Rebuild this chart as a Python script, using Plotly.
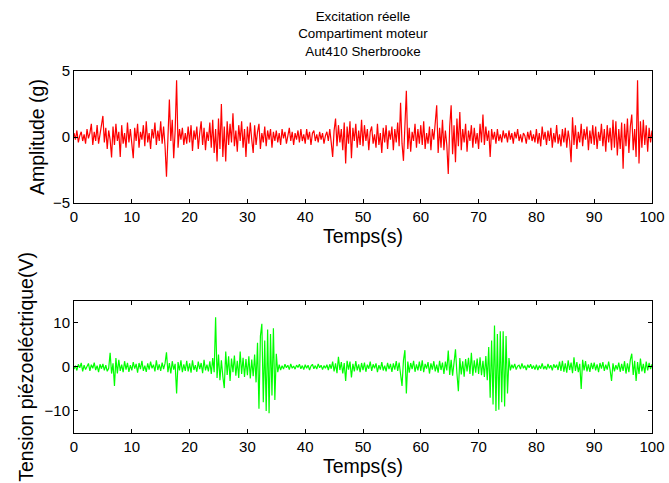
import plotly.graph_objects as go

sample_step_s = 0.25

accel_g = [
    0.3, -0.2, 0.5, -0.4, 0.1, 0.4, -0.3, 0.2, -0.5, 0.6, -0.1, 0.3, 1.0, -0.6, 0.4, -0.3, 0.9, -0.5, 0.2, 1.1,
    1.6, -0.4, 0.7, -0.9, 0.5, -0.2, -1.55, 0.8, -0.6, 1.0, -0.3, 0.4, -1.5, 0.9, -0.5, 0.3, -0.8, 1.1, -0.4, 0.6,
    -0.5, -1.6, 0.7, -0.3, 1.0, -0.8, 0.4, -0.2, 0.9, -0.7, 1.2, -0.4, 0.3, -0.9, 0.6, -0.1, 1.1, -0.6, 0.5, -0.3,
    1.2, -0.5, 0.8, -0.7, -3.0, 0.4, 2.85, -0.3, 1.3, -1.6, 0.5, 4.3, -0.8, 0.6, -0.2, 0.7, -0.6, 0.3, -0.5, 0.8,
    -0.4, 0.9, -1.05, 0.5, -0.2, 0.8, -0.9, 0.3, 1.2, -0.6, 0.7, -1.0, 0.4, -0.3, 1.1, -0.8, 1.3, -1.2, 0.6, -1.85,
    1.4, -0.9, 2.5, -1.5, 0.8, -1.85, 1.2, -0.6, 1.0, -0.4, 1.8, -0.7, 0.5, -1.1, 0.9, -0.3, 1.2, -0.8, 0.6, -1.5,
    0.8, -0.5, 1.1, -0.2, -1.2, 0.9, -0.6, 0.4, 1.0, -0.9, 0.3, -0.4, 0.8, -0.7, 0.5, -0.2, 0.6, -0.8, 0.4, -0.3,
    0.5, -0.4, 0.3, -0.6, 0.6, -0.1, 0.4, -0.5, 0.2, 0.7, -0.3, 0.4, -0.6, 0.3, -0.2, 0.5, -0.4, 0.6, -0.3, 0.2,
    -0.5, 0.6, -0.2, 0.4, -0.6, 0.3, 0.5, -0.3, 0.2, -0.4, 0.4, -0.2, 0.3, -0.5, 0.1, 0.4, -0.3, 0.6, -0.4, -1.5,
    0.5, 1.4, -0.7, 0.9, -0.4, 0.6, -1.0, 1.1, -2.0, 0.8, -0.5, 1.2, -1.6, 0.7, -0.3, 1.0, -0.8, 0.5, -0.6, 1.3,
    -0.7, 0.9, -0.3, 0.6, -1.0, 0.4, 0.8, -0.5, 0.2, -0.8, 1.0, -0.6, 0.3, -1.2, 0.7, -0.4, 0.9, -0.9, 0.5, -0.2,
    0.8, -1.0, 0.6, -0.4, 1.1, -0.7, 2.6, -0.5, -1.8, 1.2, 3.5, -0.9, 0.7, -1.1, 0.4, -0.3, 1.0, -0.8, 0.6, -0.5,
    0.9, -0.6, 1.2, -0.9, 0.3, -0.5, 0.8, -1.0, 0.6, -0.2, 1.1, 2.4, -1.2, 0.7, -0.8, 1.3, -1.0, 0.5, -0.6, -2.8,
    0.8, 2.4, -1.3, 0.9, -1.9, 1.4, -0.7, 1.9, -1.0, 0.6, -0.4, 1.0, -1.1, 0.5, -0.3, 0.9, -0.8, 0.7, -0.5, 0.3,
    -0.9, 1.0, -0.4, 1.7, -0.6, 0.8, -0.3, 0.5, -1.5, 0.6, -0.2, 0.4, -0.5, 0.6, -0.3, 0.2, -0.4, 0.5, -0.1, 0.3,
    -0.4, 0.5, -0.2, 0.3, -0.5, 0.4, -0.1, 0.6, -0.3, 0.2, -0.4, 0.3, 0.1, -0.5, 0.4, -0.2, 0.5, -0.3, 0.2, -0.4,
    0.6, -0.5, 0.3, -0.7, 0.8, -0.2, 0.4, -0.6, 0.5, -0.3, 0.7, -0.8, 0.3, -0.4, 0.9, -0.5, 0.2, -0.7, 0.6, -0.4,
    0.7, -0.8, 0.5, -0.3, -1.9, 1.5, -0.6, 0.9, -0.9, 0.4, -0.4, 1.0, -0.7, 0.6, -0.2, 0.8, -1.0, 0.5, -0.5, 0.9,
    -0.6, 0.8, -0.9, 0.4, -0.3, 1.0, -0.7, 0.6, -1.1, 0.9, -0.4, 0.7, -1.0, 1.3, -0.8, 1.2, -1.4, 0.6, -0.9, 1.1,
    -2.4, 1.0, -0.7, 1.4, -1.2, 0.8, 1.7, -1.0, 0.6, -1.5, 4.3, -2.0, 1.2, -0.8, 1.3, -0.6, 0.9, -1.1, 0.7, -0.4,
    0.5,
]

tension_v = [
    -0.5, 0.3, -0.8, 0.6, -0.2, 0.9, -1.0, 0.4, -0.6, 0.2, 0.8, -0.9, 0.5, -0.3, 1.0, -0.7, 0.3, -1.2, 0.6, -0.4,
    0.7, -0.8, 0.4, -1.0, -0.3, 3.2, -1.5, 0.8, -4.3, 2.0, -1.5, 1.6, -0.9, 0.5, -1.2, 1.3, -0.6, 0.9, -1.1, 0.4,
    -0.8, 1.1, -0.4, 0.7, -1.3, 0.9, -0.5, 1.4, -0.9, 0.3, -1.1, 0.8, -0.6, 1.2, -0.3, 0.5, -1.0, 1.5, -0.7, 0.6,
    -0.9, 1.0, -0.5, 0.8, 3.3, -1.2, 0.9, -1.5, 1.3, -0.6, 0.7, -6.0, 1.1, -0.8, 1.5, -1.2, 0.6, -0.9, 1.4, -1.0,
    0.8, -1.3, 1.5, -0.7, 0.4, -1.1, 1.2, -0.5, 0.9, -1.4, 1.6, -0.8, 0.5, -1.0, 1.3, -1.6, 2.0, -1.2, 11.3, -2.5,
    2.8, -3.0, 1.5, -2.2, -4.8, 3.5, -1.8, 2.4, -3.2, 1.9, -1.2, 2.6, -2.0, 1.4, -2.5, 3.5, -1.6, 2.1, -2.3, 1.8,
    -1.9, 2.4, -2.6, 1.7, -2.1, 2.8, -3.5, 5.5, -9.5, 7.0, 9.8, -8.0, 6.0, -10.0, 8.5, -10.5, 7.5, -6.5, 8.8, -7.5,
    3.0, -1.2, 0.5, -0.7, 0.3, -0.5, 0.6, -0.2, 0.4, -0.6, 0.7, -0.3, 0.2, -0.5, 0.4, -0.1, 0.6, -0.4, 0.3, -0.6,
    0.5, -0.3, 0.4, -0.7, 0.2, 0.6, -0.4, 0.3, -0.5, 0.7, -0.2, 0.4, -0.6, 0.3, -0.3, 0.5, -0.7, 0.6, -0.4, 1.2,
    -1.0, 0.8, -1.4, 2.3, -0.7, 1.1, -1.5, 0.9, -3.2, 1.4, -0.6, 1.2, -2.4, 0.7, -1.0, 1.3, -0.8, 0.6, -1.2, 0.9,
    -0.7, 1.0, -1.1, 0.5, -0.4, 1.2, -0.9, 0.6, -0.3, 0.8, -1.2, 0.4, -0.6, 1.1, -0.8, 0.3, -1.0, 0.9, -0.5, 0.7,
    -1.1, 0.8, -0.6, 1.3, -0.9, 1.0, -1.4, -4.3, 1.5, 3.8, -6.0, 1.2, -1.3, 0.9, -0.5, 1.4, -1.1, 0.6, -0.8, 1.2,
    -0.9, 1.5, -1.2, 0.7, -0.4, 1.1, -1.5, 0.8, -0.6, 1.3, -1.0, 0.5, -1.3, 1.4, -0.7, 1.0, -1.6, 1.2, -0.8, 3.7,
    -1.8, 1.6, -2.0, 1.2, 4.0, -1.5, -5.5, 2.0, -1.7, 1.3, -2.2, 1.8, -1.0, 2.1, -1.6, 3.2, -2.0, 1.5, -1.3, 1.9,
    -1.6, 2.2, -1.9, 1.4, -2.3, 2.5, -3.0, 4.5, -7.0, 6.0, -8.5, 9.4, -10.0, 7.5, -9.7, 8.1, -8.0, 8.1, -9.0, 7.0,
    -6.0, 2.0, -0.8, 0.5, -0.3, 0.7, -0.6, 0.2, 0.4, -0.5, 0.8, -0.3, 0.3, -0.7, 0.5, -0.2, 0.6, -0.4, 0.3, -0.6,
    0.5, -0.7, 0.3, -0.4, 0.8, -0.5, 0.2, -0.6, 0.7, -0.3, 0.4, -0.8, 0.6, -0.2, 0.5, -0.7, 1.2, -0.9, 1.4, -1.1,
    0.8, -1.3, 1.5, -0.7, 1.0, -1.4, 2.2, -0.9, 1.1, -1.2, 0.7, -5.0, 1.6, -0.8, 1.3, -1.0, 0.6, -1.1, 0.9, -0.5,
    1.0, -0.8, 0.6, -1.2, 0.9, -0.4, 1.1, -0.9, 0.5, -0.6, 1.2, -0.7, -3.2, 0.8, -1.0, 0.4, -0.6, 1.0, -1.1, 0.7,
    -0.9, 1.3, -1.5, 0.8, -1.2, 1.6, 3.0, -1.8, 1.4, -3.2, 1.1, -1.6, 1.9, -1.0, 0.7, -1.4, 1.2, -0.8, 0.9, -0.5,
    0.6,
]

time_s = [i * sample_step_s for i in range(len(accel_g))]

x_ticks = [0, 10, 20, 30, 40, 50, 60, 70, 80, 90, 100]
top_y_ticks = [-5, 0, 5]
bottom_y_ticks = [-10, 0, 10]

title_lines = ["Excitation réelle", "Compartiment moteur", "Aut410 Sherbrooke"]
x_title = "Temps(s)"
top_y_title = "Amplitude (g)"
bottom_y_title = "Tension piézoeléctrique(V)"

FONT = "Liberation Sans, Arial, sans-serif"
TICK_SIZE = 15
LABEL_SIZE = 19.5

fig = go.Figure()
fig.add_trace(go.Scatter(x=time_s, y=accel_g, mode="lines",
                         line=dict(color="#ff0000", width=1.2),
                         xaxis="x", yaxis="y", showlegend=False))
fig.add_trace(go.Scatter(x=time_s, y=tension_v, mode="lines",
                         line=dict(color="#00ff00", width=1.2),
                         xaxis="x2", yaxis="y2", showlegend=False))

axis_common = dict(showline=True, linecolor="black", linewidth=1, mirror="allticks",
                   ticks="inside", ticklen=4, tickcolor="black", showgrid=False,
                   zeroline=False, automargin=False,
                   tickfont=dict(family=FONT, size=TICK_SIZE, color="black"))

fig.update_layout(
    width=669, height=483,
    paper_bgcolor="white", plot_bgcolor="white",
    margin=dict(l=74, r=17, t=71, b=50, autoexpand=False),
    font=dict(family=FONT, color="black"),
    title=dict(text="<br>".join(title_lines), x=0.5425, xanchor="center",
               y=0.957, yanchor="top", font=dict(family=FONT, size=13.4, color="black")),
    xaxis=dict(domain=[0, 1], anchor="y", range=[0, 100], tickvals=x_ticks,
               title=dict(text=x_title, font=dict(family=FONT, size=LABEL_SIZE), standoff=0),
               **axis_common),
    yaxis=dict(domain=[0.635, 1], anchor="x", range=[-5, 5], tickvals=top_y_ticks,
               title=dict(text=top_y_title, font=dict(family=FONT, size=LABEL_SIZE), standoff=3),
               **axis_common),
    xaxis2=dict(domain=[0, 1], anchor="y2", range=[0, 100], tickvals=x_ticks,
                title=dict(text=x_title, font=dict(family=FONT, size=LABEL_SIZE), standoff=0),
                **axis_common),
    yaxis2=dict(domain=[0, 0.365], anchor="x2", range=[-15, 15], tickvals=bottom_y_ticks,
                title=dict(text=bottom_y_title, font=dict(family=FONT, size=LABEL_SIZE), standoff=5),
                **axis_common),
)

fig.write_html("out.html", config={"displayModeBar": False},
               post_script="document.body.style.margin='0';document.body.style.overflow='hidden';")
